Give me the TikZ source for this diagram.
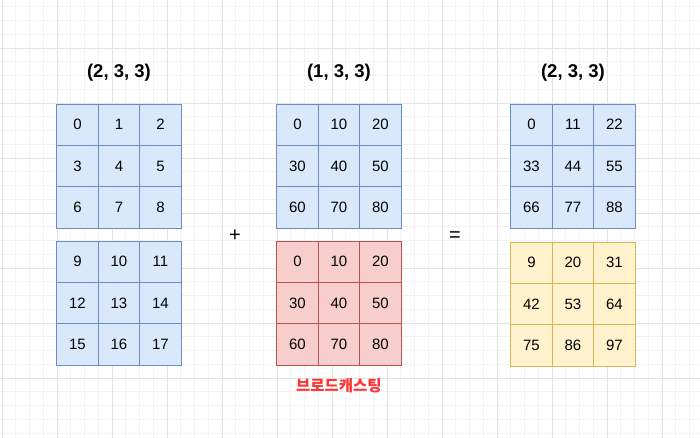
\documentclass[tikz,border=0pt]{standalone}
\usepackage{fontspec}
\setmainfont{Liberation Sans}
\newfontfamily\krfont{Noto Sans CJK KR}
\usetikzlibrary{positioning}

\definecolor{bluefill}{HTML}{DAE8FC}
\definecolor{bluedraw}{HTML}{6C8EBF}
\definecolor{redfill}{HTML}{F8CECC}
\definecolor{reddraw}{HTML}{B85450}
\definecolor{yelfill}{HTML}{FFF2CC}
\definecolor{yeldraw}{HTML}{D6B656}
\definecolor{gridminor}{HTML}{F2F2F2}
\definecolor{gridmajor}{HTML}{E3E3E3}
\definecolor{castred}{HTML}{FF3333}

\tikzset{
  cell/.style={draw, line width=0.8pt, inner sep=0pt, outer sep=0pt,
    minimum width=41.5pt, minimum height=41.3pt, font=\fontsize{15}{15}\selectfont},
  cellb/.style={cell, fill=bluefill, draw=bluedraw},
  cellr/.style={cell, fill=redfill, draw=reddraw},
  celly/.style={cell, fill=yelfill, draw=yeldraw},
  shape label/.style={font=\fontsize{18.5}{18.5}\selectfont\bfseries},
  op/.style={font=\fontsize{20}{20}\selectfont}
}

\begin{document}
\begin{tikzpicture}[x=1pt, y=-1pt]

  \useasboundingbox (0,0) rectangle (700,438);
  \fill[white] (0,0) rectangle (700,438);

  %% background grid
  \foreach \k in {0,...,51}
    \draw[gridminor, line width=0.6pt] (2+\k*13.75, 0) -- (2+\k*13.75, 438);
  \foreach \k in {0,...,32}
    \draw[gridminor, line width=0.6pt] (0, 6.75+\k*13.75) -- (700, 6.75+\k*13.75);
  \foreach \k in {0,...,12}
    \draw[gridmajor, line width=0.7pt] (2+\k*55, 0) -- (2+\k*55, 438);
  \foreach \k in {0,...,7}
    \draw[gridmajor, line width=0.7pt] (0, -7+\k*55) -- (700, -7+\k*55);

  \newcommand\CW{41.5}
  \newcommand\CH{41.3}

  %% A : (2, 3, 3)
  \foreach \v [count=\i from 0] in {0,1,2,3,4,5,6,7,8} {
    \pgfmathtruncatemacro\r{\i/3}
    \pgfmathtruncatemacro\c{mod(\i,3)}
    \node[cellb] (a0-\r-\c) at (56.7+\CW/2+\c*\CW, 104+\CH/2+\r*\CH) {\v};
  }
  \foreach \v [count=\i from 0] in {9,10,11,12,13,14,15,16,17} {
    \pgfmathtruncatemacro\r{\i/3}
    \pgfmathtruncatemacro\c{mod(\i,3)}
    \node[cellb] (a1-\r-\c) at (56.7+\CW/2+\c*\CW, 241+\CH/2+\r*\CH) {\v};
  }

  %% B : (1, 3, 3), broadcast copy in red
  \foreach \v [count=\i from 0] in {0,10,20,30,40,50,60,70,80} {
    \pgfmathtruncatemacro\r{\i/3}
    \pgfmathtruncatemacro\c{mod(\i,3)}
    \node[cellb] (b0-\r-\c) at (276.7+\CW/2+\c*\CW, 104+\CH/2+\r*\CH) {\v};
    \node[cellr] (b1-\r-\c) at (276.7+\CW/2+\c*\CW, 241+\CH/2+\r*\CH) {\v};
  }

  %% C : (2, 3, 3)
  \foreach \v [count=\i from 0] in {0,11,22,33,44,55,66,77,88} {
    \pgfmathtruncatemacro\r{\i/3}
    \pgfmathtruncatemacro\c{mod(\i,3)}
    \node[cellb] (c0-\r-\c) at (510.7+\CW/2+\c*\CW, 104+\CH/2+\r*\CH) {\v};
  }
  \foreach \v [count=\i from 0] in {9,20,31,42,53,64,75,86,97} {
    \pgfmathtruncatemacro\r{\i/3}
    \pgfmathtruncatemacro\c{mod(\i,3)}
    \node[celly] (c1-\r-\c) at (510.7+\CW/2+\c*\CW, 242+\CH/2+\r*\CH) {\v};
  }

  %% shape labels
  \node[shape label, above=19pt of a0-0-1] (la) {(2, 3, 3)};
  \node[shape label, above=19pt of b0-0-1] (lb) {(1, 3, 3)};
  \node[shape label, above=19pt of c0-0-1] (lc) {(2, 3, 3)};

  %% operators
  \node[op] (plus) at (235, 236) {+};
  \node[op] (eq) at (455, 237) {=};

  \node[below=10pt of b1-2-1, text=castred, font=\krfont\fontsize{15.5}{15.5}\selectfont\bfseries] (cast) {브로드캐스팅};

\end{tikzpicture}
\end{document}
